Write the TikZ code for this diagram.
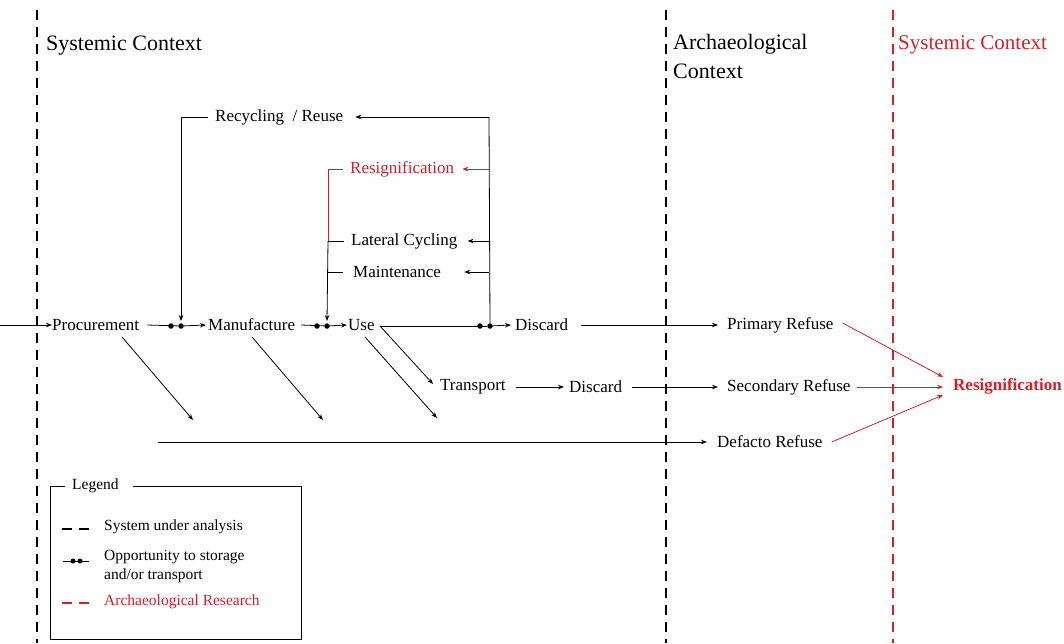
\documentclass[tikz,border=0pt]{standalone}
\usepackage{fontspec}
\setmainfont{Liberation Serif}
\newfontfamily\tnr{Liberation Serif}
\usetikzlibrary{arrows.meta}
\definecolor{rred}{RGB}{215,30,40}
\begin{document}
\begin{tikzpicture}[x=1pt,y=-1pt,
  lbl/.style={anchor=west,inner sep=0pt,font=\tnr\fontsize{17}{19}\selectfont},
  hdr/.style={anchor=west,inner sep=0pt,font=\tnr\fontsize{22}{29}\selectfont},
  leg/.style={anchor=west,inner sep=0pt,font=\tnr\fontsize{15.5}{19}\selectfont},
  arr/.style={-{Stealth[length=6pt,width=4.5pt]},line width=0.8pt},
  ln/.style={line width=0.8pt},
  dotn/.style={circle,fill,inner sep=0pt,minimum size=5.5pt},
  sysline/.style={dash pattern=on 10pt off 7pt,line width=1.6pt}]
\useasboundingbox (0,0) rectangle (1064,643);

% context boundaries
\coordinate (b1t) at (37,10);  \coordinate (b1b) at (37,643);
\coordinate (b2t) at (666,10); \coordinate (b2b) at (666,643);
\coordinate (b3t) at (893,10); \coordinate (b3b) at (893,643);
\draw[sysline] (b1t) -- (b1b);
\draw[sysline] (b2t) -- (b2b);
\draw[sysline,rred] (b3t) -- (b3b);

% headers
\node[hdr] (h1) at (46,46) {Systemic Context};
\node[hdr,align=left,anchor=north west] (h2) at (673,34) {Archaeological\\Context};
\node[hdr,rred,font=\tnr\fontsize{21}{26}\selectfont] (h3) at (898,45) {Systemic Context};

% main row
\node[lbl] (proc) at (52,325) {Procurement};
\node[lbl] (manu) at (208,325) {Manufacture};
\node[lbl] (use) at (348,325) {Use};
\node[lbl] (disc) at (515,325) {Discard};
\node[dotn] (d1a) at (171,326) {};
\node[dotn] (d1b) at (181,326) {};
\node[dotn] (d2a) at (317,326) {};
\node[dotn] (d2b) at (327,326) {};
\node[dotn] (d3a) at (480,326) {};
\node[dotn] (d3b) at (490,326) {};

% feedback labels
\node[lbl] (rec) at (215,117) {Recycling~~/ Reuse};
\node[lbl,rred] (resig) at (350,169) {Resignification};
\node[lbl] (lat) at (351,241) {Lateral Cycling};
\node[lbl] (mai) at (353,272) {Maintenance};

% second row
\node[lbl] (trans) at (440,387) {Transport};
\node[lbl] (disc2) at (569,387) {Discard};

% refuse
\node[lbl] (prim) at (727,325) {Primary Refuse};
\node[lbl] (sec) at (727,387) {Secondary Refuse};
\node[lbl] (defa) at (717,442) {Defacto Refuse};
\node[lbl,rred,font=\tnr\fontsize{17}{19}\selectfont\bfseries] (resig2) at (953,386) {Resignification};

% coordinates
\coordinate (in) at (0,325);
\coordinate (pstart) at (122,337);
\coordinate (pend) at (193,420);
\coordinate (mstart) at (252,337);
\coordinate (mend) at (323,420);
\coordinate (ustart) at (380,326);
\coordinate (tend) at (433,384);
\coordinate (u2start) at (365,337);
\coordinate (uend) at (437,418);
\coordinate (dstart) at (158,442);
\coordinate (vtop) at (489,117);
\coordinate (resigc) at (328,169);
\coordinate (latc) at (328,241);
\coordinate (maic) at (328,272);
\coordinate (rp) at (943,377);
\coordinate (rs) at (943,387);
\coordinate (rd) at (943,395);

% main flow
\draw[arr] (in) -- (proc.west);
\draw[ln] ([xshift=8pt]proc.east) -- (d1b);
\draw[arr] (d1b) -- ([xshift=-2pt]manu.west);
\draw[ln] ([xshift=6pt]manu.east) -- (d2b);
\draw[arr] (d2b) -- ([xshift=-1pt]use.west);
\draw[ln] (ustart) -- (d3b);
\draw[arr] (d3b) -- ([xshift=-4pt]disc.west);

% diagonals
\draw[arr] (pstart) -- (pend);
\draw[arr] (mstart) -- (mend);
\draw[arr] (ustart) -- (tend);
\draw[arr] (u2start) -- (uend);

% feedback loop
\draw[ln] (d3b) -- (vtop);
\draw[arr] (vtop) -- ([xshift=12pt]rec.east);
\draw[arr,rred] (489,169) -- ([xshift=8pt]resig.east);
\draw[arr] (489,241) -- ([xshift=10pt]lat.east);
\draw[arr] (489,272) -- ([xshift=23pt]mai.east);
\draw[arr] ([xshift=-7pt]rec.west) -| ([yshift=2pt]d1b.north);
\draw[ln,rred] ([xshift=-7pt]resig.west) -- (resigc) -- (latc);
\draw[arr] (latc) -- ([yshift=2pt]d2b.north);
\draw[ln] (latc) -- ([xshift=-7pt]lat.west);
\draw[ln] (maic) -- ([xshift=-10pt]mai.west);

% second row
\draw[arr] ([xshift=10pt]trans.east) -- ([xshift=-5pt]disc2.west);

% to refuse
\draw[arr] ([xshift=13pt]disc.east) -- ([xshift=-9pt]prim.west);
\draw[arr] ([xshift=10pt]disc2.east) -- ([xshift=-9pt]sec.west);
\draw[arr] (dstart) -- ([xshift=-10pt]defa.west);

% red arrows
\draw[arr,rred] ([xshift=9pt,yshift=2pt]prim.east) -- (rp);
\draw[arr,rred] ([xshift=6pt]sec.east) -- (rs);
\draw[arr,rred] ([xshift=9pt]defa.east) -- (rd);

% legend
\node[leg] (legt) at (72,486) {Legend};
\draw[ln] ([xshift=-7pt]legt.west) -- (50,486) -- (50,639) -- (301,639) -- (301,486) -- ([xshift=14pt]legt.east);
\coordinate (l1a) at (62,529); \coordinate (l1b) at (91,529);
\draw[sysline] (l1a) -- (l1b);
\node[leg] (lt1) at (104,527) {System under analysis};
\coordinate (l2a) at (63,561); \coordinate (l2b) at (89,561);
\draw[ln] (l2a) -- (l2b);
\node[dotn,minimum size=5pt] (ld1) at (73,561) {};
\node[dotn,minimum size=5pt] (ld2) at (80,561) {};
\node[leg,align=left,anchor=north west] (lt2) at (104,550) {Opportunity to storage\\and/or transport};
\coordinate (l3a) at (62,603); \coordinate (l3b) at (91,603);
\draw[sysline,rred] (l3a) -- (l3b);
\node[leg,rred] (lt3) at (104,602) {Archaeological Research};
\end{tikzpicture}
\end{document}
